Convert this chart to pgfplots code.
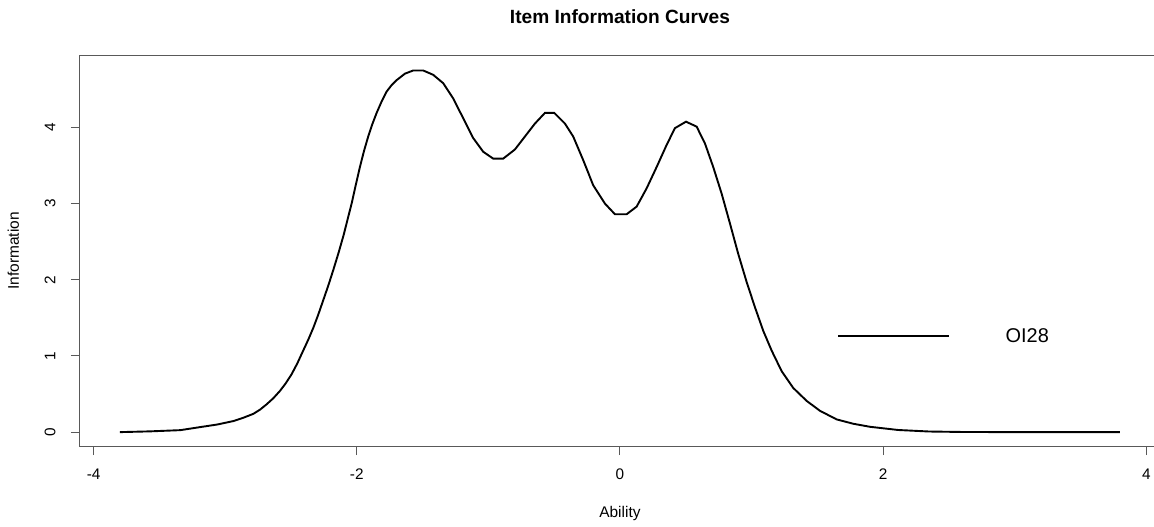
\documentclass[border=0pt]{standalone}
\usepackage{pgfplots}
\pgfplotsset{compat=1.18}
\usepackage{fontspec}
\setmainfont{Liberation Sans}

\pgfplotstableread{
x y
-3.800 0.000
-3.570 0.010
-3.340 0.026
-3.190 0.066
-3.060 0.100
-2.938 0.145
-2.860 0.190
-2.786 0.240
-2.735 0.295
-2.685 0.365
-2.634 0.445
-2.584 0.540
-2.540 0.640
-2.495 0.760
-2.451 0.905
-2.407 1.070
-2.368 1.215
-2.330 1.370
-2.292 1.545
-2.255 1.730
-2.216 1.925
-2.178 2.130
-2.139 2.350
-2.100 2.585
-2.070 2.790
-2.039 3.000
-2.008 3.240
-1.976 3.480
-1.945 3.690
-1.913 3.880
-1.881 4.045
-1.849 4.190
-1.811 4.340
-1.773 4.470
-1.735 4.555
-1.697 4.620
-1.634 4.705
-1.571 4.747
-1.495 4.747
-1.419 4.690
-1.343 4.580
-1.267 4.380
-1.191 4.120
-1.115 3.860
-1.039 3.680
-0.963 3.590
-0.887 3.590
-0.798 3.710
-0.722 3.880
-0.646 4.050
-0.570 4.190
-0.499 4.190
-0.418 4.050
-0.355 3.880
-0.279 3.570
-0.203 3.240
-0.114 3.000
-0.038 2.860
0.051 2.860
0.127 2.960
0.203 3.200
0.279 3.480
0.355 3.770
0.418 3.990
0.502 4.075
0.583 4.010
0.646 3.790
0.709 3.480
0.773 3.130
0.836 2.740
0.899 2.340
0.963 1.970
1.026 1.640
1.089 1.330
1.153 1.070
1.229 0.800
1.317 0.580
1.419 0.410
1.520 0.280
1.647 0.167
1.773 0.110
1.900 0.070
2.115 0.028
2.350 0.008
2.600 0.002
3.000 0.000
3.800 0.000
}\infocurve

\begin{document}
\begin{tikzpicture}
\path[use as bounding box] (-79.5bp,-80.4bp) rectangle (1074.5bp,446.6bp);
\begin{axis}[
  at={(0,0)}, anchor=south west,
  scale only axis,
  width=1080.5bp, height=391.2bp,
  xmin=-4.107, xmax=4.104, ymin=-0.19, ymax=4.945,
  axis line style={black!65, line width=0.9bp},
  tick style={black!65, line width=0.9bp},
  tick align=outside, major tick length=8.5bp,
  xtick pos=left, ytick pos=left,
  xtick={-4,-2,0,2,4}, xticklabels={-4,-2,0,2,4},
  ytick={0,1,2,3,4}, yticklabels={0,1,2,3,4},
  xticklabel style={anchor=center, yshift=-19.4bp, font=\fontsize{15.4}{18}\selectfont},
  yticklabel style={xshift=-21bp, rotate=90, anchor=center, font=\fontsize{15.4}{18}\selectfont},
  every axis title/.style={at={(axis description cs:0.5002,1)}, yshift=38.4bp, anchor=center, font=\bfseries\fontsize{19.2}{22}\selectfont},
  every axis x label/.style={at={(axis description cs:0.5002,0)}, yshift=-67.1bp, anchor=center, font=\fontsize{15.5}{18}\selectfont},
  every axis y label/.style={at={(axis description cs:0,0.5)}, xshift=-66.2bp, rotate=90, anchor=center, font=\fontsize{15.5}{18}\selectfont},
  title={Item Information Curves},
  xlabel={Ability},
  ylabel={Information},
  legend image code/.code={\draw[black, line width=2bp] (0bp,0bp) -- (111bp,0bp); \path[draw=none] (0bp,0bp) -- (167.6bp,0bp);},
  legend style={draw=none, fill=none, inner sep=0pt, outer sep=0pt, at={(axis cs:1.65,1.263)}, anchor=west, nodes={inner sep=0pt, font=\fontsize{20}{24}\selectfont}},
]
\addplot[black, line width=1.9bp] table[x=x, y=y] {\infocurve};
\addlegendentry{OI28}
\end{axis}
\end{tikzpicture}
\end{document}
